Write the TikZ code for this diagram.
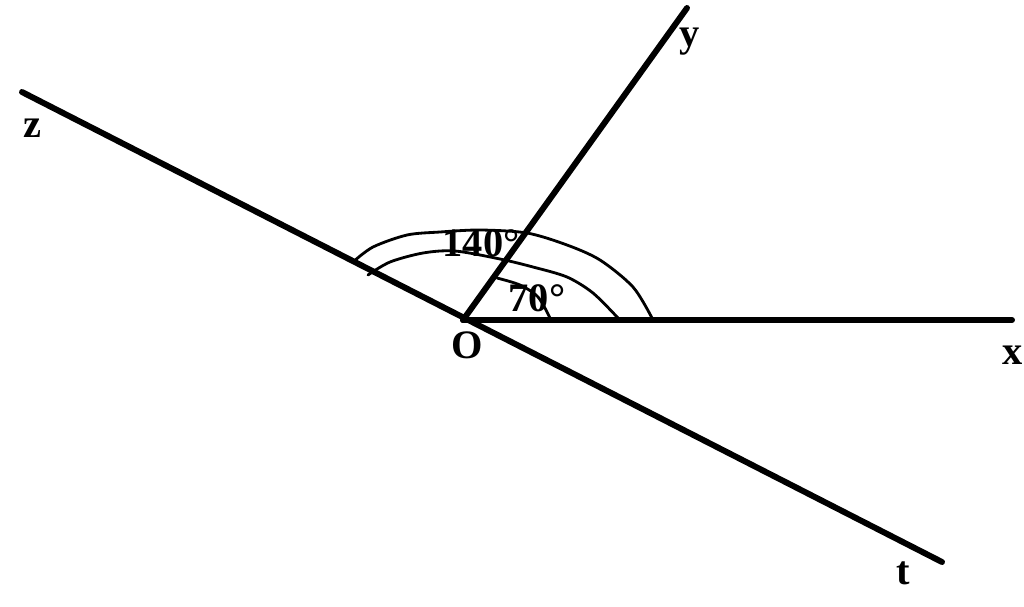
\documentclass[tikz,border=0pt]{standalone}
\usepackage{fontspec}
\setmainfont{Liberation Serif}
\begin{document}
\begin{tikzpicture}[x=0.02cm,y=-0.02cm,
  ray/.style={draw,line width=3.4pt,line cap=round},
  markarc/.style={draw,line width=1.6pt,line cap=round},
  lbl/.style={font=\fontsize{23}{23}\selectfont\bfseries,inner sep=0pt}]
\useasboundingbox (0,0) rectangle (1024,606);
\coordinate (O) at (463,320);
\coordinate (z) at (22,92);
\coordinate (t) at (942,562);
\coordinate (x) at (1012,320);
\coordinate (y) at (687,8);
\node[lbl] (lz) at (32,128) {z};
\node[lbl] (lt) at (903,573) {t};
\node[lbl] (lx) at (1013,355) {x};
\node[lbl] (ly) at (690,42) {y};
\node[lbl] (lO) at (467,345) {O};
\path[ray] (z) -- (t);
\path[ray] (O) -- (x);
\path[ray] (O) -- (y);
% angle marks
\path[markarc] plot[smooth] coordinates {(353,262) (373,247) (407,235) (440,232) (480,230) (527,233) (567,245) (600,260) (633,287) (652,318)};
\path[markarc] plot[smooth] coordinates {(368,275) (390,262) (423,253) (455,251) (500,259) (533,267) (567,277) (593,293) (618,318)};
\path[markarc] plot[smooth] coordinates {(497,278) (520,285) (538,297) (550,318)};
\node[lbl] (a140) at (481,243) {140°};
\node[lbl] (a70) at (537,298) {70°};
\end{tikzpicture}
\end{document}
